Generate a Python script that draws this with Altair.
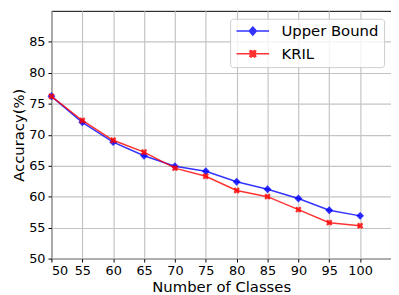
import altair as alt
import pandas as pd

classes = [50, 55, 60, 65, 70, 75, 80, 85, 90, 95, 100]
upper_bound = [76.2, 72.0, 68.8, 66.6, 64.9, 64.1, 62.4, 61.2, 59.7, 57.8, 56.9]
kril = [76.2, 72.3, 69.1, 67.2, 64.6, 63.3, 61.0, 60.0, 57.9, 55.8, 55.3]
series_names = ["Upper Bound", "KRIL"]
series_colors = ["blue", "red"]
x_ticks = [50, 55, 60, 65, 70, 75, 80, 85, 90, 95, 100]
y_ticks = [50, 55, 60, 65, 70, 75, 80, 85]

rows = []
for name, vals in zip(series_names, [upper_bound, kril]):
    for c, v in zip(classes, vals):
        rows.append({"classes": c, "acc": v, "series": name})
df = pd.DataFrame(rows)

FONT = "DejaVu Sans"

x_enc = alt.X("classes:Q", scale=alt.Scale(domain=[50, 105], nice=False, zero=False),
              axis=alt.Axis(values=x_ticks, title="Number of Classes"))
y_enc = alt.Y("acc:Q", scale=alt.Scale(domain=[50, 90], nice=False, zero=False),
              axis=alt.Axis(values=y_ticks, title="Accuracy(%)"))

color_scale = alt.Scale(domain=series_names, range=series_colors)

# custom legend symbols: line segment with marker (unit = sqrt(size)/2 px)
legend_diamond = "M-1,0H4.5M1.75,-0.68L2.35,0L1.75,0.68L1.15,0Z"
legend_x = ("M-1,0H4.5M1.25,-0.45L1.45,-0.55L1.75,-0.35L2.05,-0.55L2.25,-0.45"
            "L2.1,0L2.25,0.45L2.05,0.55L1.75,0.35L1.45,0.55L1.25,0.45L1.4,0Z")
marker_x = "M-1,-0.5L-0.5,-1L0,-0.6L0.5,-1L1,-0.5L0.6,0L1,0.5L0.5,1L0,0.6L-0.5,1L-1,0.5L-0.6,0Z"

leg = alt.Legend(
    title=None, orient="none", legendX=181, legendY=8,
    symbolSize=144, labelOffset=32, rowPadding=7,
    labelFont=FONT, labelFontSize=15, labelColor="black",
    padding=5, strokeColor="#cccccc", fillColor="rgba(255,255,255,0.8)",
    cornerRadius=3, symbolStrokeWidth=1.5, symbolOpacity=0.8,
)

base = alt.Chart(df)

legend_layer = base.mark_point(filled=True, opacity=0.8).encode(
    x=x_enc, y=y_enc,
    fill=alt.Fill("series:N", scale=color_scale, legend=leg),
    stroke=alt.Stroke("series:N", scale=color_scale, legend=leg),
    shape=alt.Shape("series:N",
                    scale=alt.Scale(domain=series_names, range=[legend_diamond, legend_x]),
                    legend=leg),
).transform_filter("false")

def series_layers(name, color, shape, size):
    sub = base.transform_filter(alt.datum.series == name)
    line = sub.mark_line(color=color, strokeWidth=1.5, opacity=0.8).encode(x=x_enc, y=y_enc)
    pts = sub.mark_point(filled=True, color=color, shape=shape, size=size, opacity=0.8).encode(x=x_enc, y=y_enc)
    return [line, pts]

layers = [legend_layer] + series_layers("Upper Bound", "blue", "diamond", 64) + series_layers("KRIL", "red", marker_x, 42)

chart = alt.layer(*layers).properties(
    width=344, height=251,
    autosize=alt.AutoSizeParams(type="none"),
    padding={"left": 44, "top": 1, "right": 0, "bottom": 35},
).configure_view(
    stroke="black", strokeWidth=1
).configure_axis(
    labelFont=FONT, labelFontSize=13, labelColor="black",
    titleFont=FONT, titleFontSize=15, titleColor="black", titleFontWeight="normal",
    tickColor="black", tickSize=3.5, tickWidth=1, labelPadding=3,
    domain=False, grid=True, gridColor="#c4c4c4", gridWidth=1.2,
).configure_axisX(titlePadding=2).configure_axisY(titlePadding=2)

chart.save("out.html", embed_options={"renderer": "svg", "actions": False})
